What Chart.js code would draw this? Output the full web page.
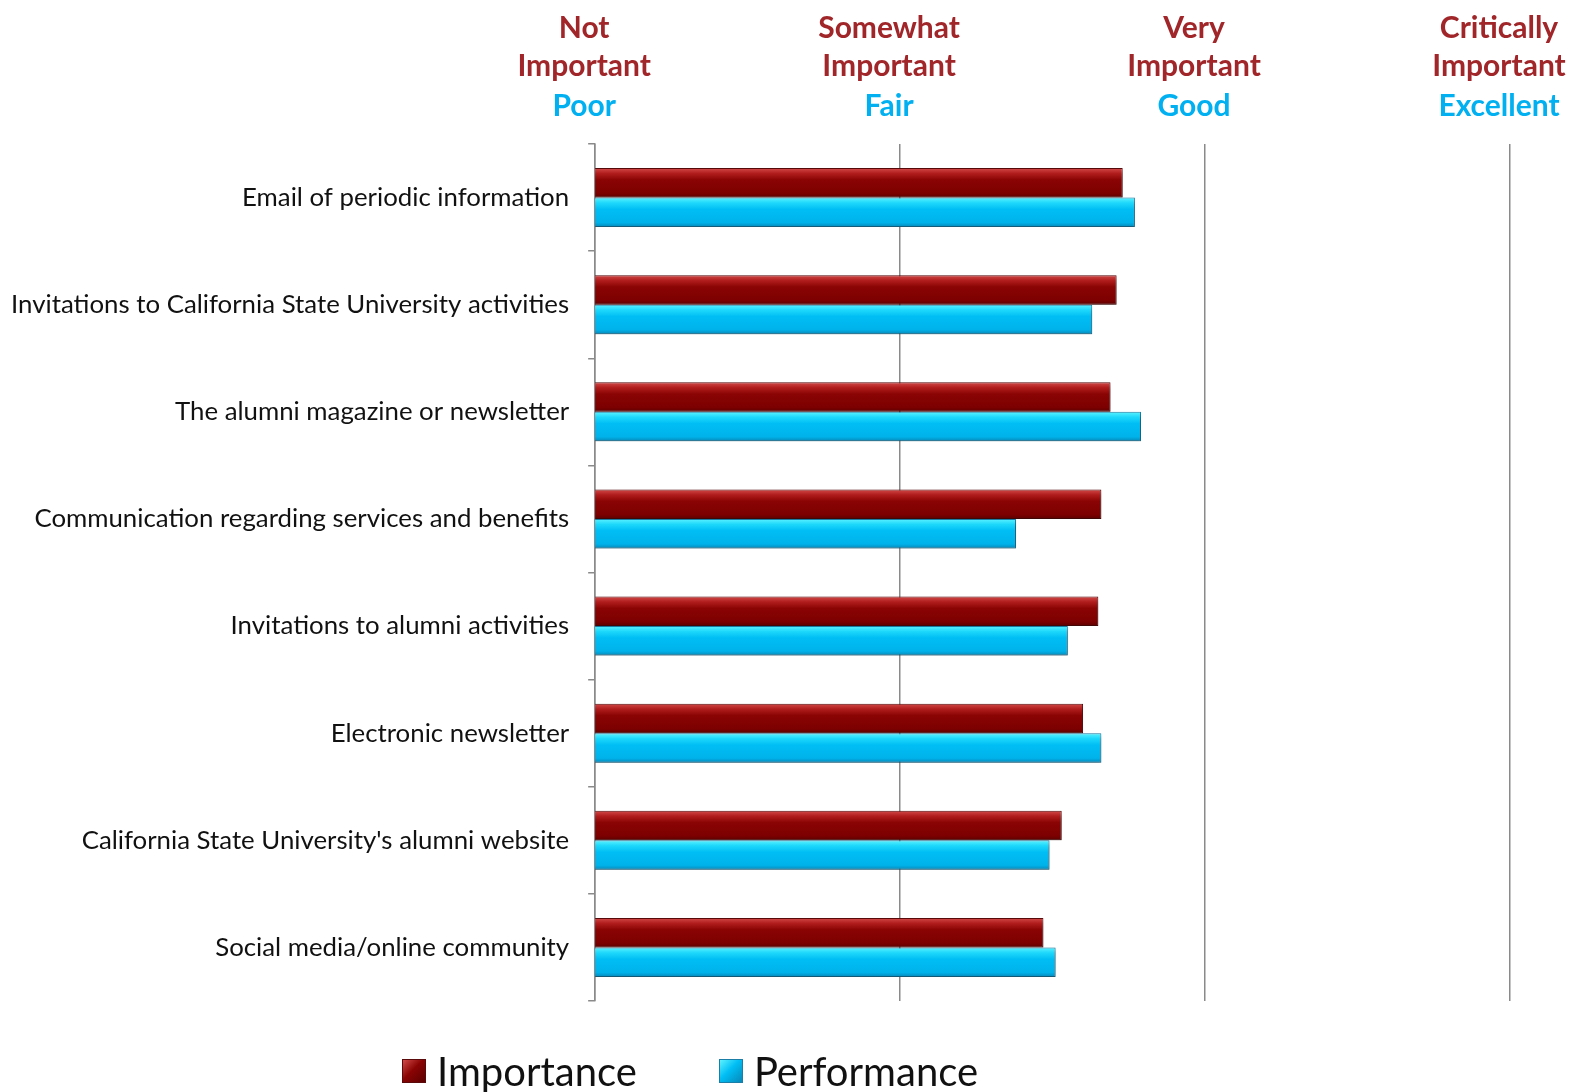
<!DOCTYPE html>
<html>
<head>
<meta charset="utf-8">
<script src="https://cdn.jsdelivr.net/npm/chart.js@4.4.1/dist/chart.umd.min.js"></script>
<style>
  html, body { margin: 0; padding: 0; background: #fff; }
  #wrap { position: relative; width: 1570px; height: 1092px; }
  #legend { position: absolute; left: 402px; top: 1047px; display: flex; align-items: center;
            font-family: Lato, "Open Sans", sans-serif; font-size: 40px; color: #111; line-height: 48px; }
  .item { display: flex; align-items: center; margin-right: 82px; }
  .box { width: 24px; height: 24px; margin-right: 11px; box-sizing: border-box; }
</style>
</head>
<body>
<div id="wrap">
  <canvas id="canvas" width="1570" height="1092"></canvas>
  <div id="legend"></div>
</div>
<script>
const categories = [
  'Email of periodic information',
  'Invitations to California State University activities',
  'The alumni magazine or newsletter',
  'Communication regarding services and benefits',
  'Invitations to alumni activities',
  'Electronic newsletter',
  "California State University's alumni website",
  'Social media/online community'
]
const importance = [2.73, 2.71, 2.69, 2.66, 2.65, 2.60, 2.53, 2.47]
const performance = [2.77, 2.63, 2.79, 2.38, 2.55, 2.66, 2.49, 2.51]
const importanceLabels = [['Not', 'Important'], ['Somewhat', 'Important'], ['Very', 'Important'], ['Critically', 'Important']]
const performanceLabels = ['Poor', 'Fair', 'Good', 'Excellent']

const RED = '#a0262a'
const BLUE = '#00b0f0'

// gradient for the "bevelled" bar look
function barFill(ctx, stops) {
  const chart = ctx.chart
  const y = chart.scales.y
  if (!y || ctx.dataIndex === undefined || !chart.chartArea) return stops[2][1]
  const cat = (y.bottom - y.top) / categories.length
  const h = cat * 0.55 / 2
  const c = y.getPixelForValue(ctx.dataIndex)
  const top = ctx.datasetIndex === 0 ? c - h : c
  const g = chart.ctx.createLinearGradient(0, top, 0, top + h)
  stops.forEach(s => g.addColorStop(s[0], s[1]))
  return g
}
const redStops = [[0, '#d24a4a'], [0.18, '#b11d1d'], [0.4, '#8a0404'], [0.85, '#7d0000'], [1, '#5c0000']]
const blueStops = [[0, '#5cf2ff'], [0.18, '#1ed8fb'], [0.4, '#00bef4'], [0.85, '#00b2ea'], [1, '#0788b8']]

const shadow = {
  id: 'shadow',
  beforeDatasetsDraw(chart) {
    const c = chart.ctx
    c.save()
    c.shadowColor = 'rgba(0,0,0,0.35)'
    c.shadowBlur = 5
    c.shadowOffsetX = 2
    c.shadowOffsetY = 3
  },
  afterDatasetsDraw(chart) { chart.ctx.restore() }
}

// header axes: fixed heights, and let the last label hang over the edge like the original
function topAxisFit(height) {
  return (scale) => {
    scale.height = height
    scale.paddingLeft = 0
    scale.paddingRight = 60
  }
}

const canvas = document.getElementById('canvas')
const chart = new Chart(canvas, {
  type: 'bar',
  data: {
    labels: categories,
    datasets: [{
      label: 'Importance',
      data: importance,
      backgroundColor: (ctx) => barFill(ctx, redStops),
      borderColor: '#5a0a0a',
      borderWidth: 1,
      categoryPercentage: 0.55,
      barPercentage: 1
    }, {
      label: 'Performance',
      data: performance,
      backgroundColor: (ctx) => barFill(ctx, blueStops),
      borderColor: '#1b7ea6',
      borderWidth: 1,
      categoryPercentage: 0.55,
      barPercentage: 1
    }]
  },
  plugins: [shadow],
  options: {
    indexAxis: 'y',
    responsive: false,
    animation: false,
    layout: { padding: { left: -8, right: 0, top: 8, bottom: 91 } },
    plugins: { legend: { display: false }, tooltip: { enabled: false } },
    scales: {
      x: {
        position: 'top',
        min: 1, max: 4,
        weight: 0,
        afterFit: topAxisFit(59),
        ticks: {
          stepSize: 1,
          autoSkip: false,
          maxRotation: 0,
          padding: 20,
          labelOffset: -11,
          color: BLUE,
          font: { family: 'Lato', size: 30, weight: 'bold', lineHeight: 1.2 },
          callback: (v) => performanceLabels[v - 1]
        },
        grid: { color: '#8a8a8a', lineWidth: 1.5, drawTicks: false },
        border: { display: false }
      },
      x2: {
        position: 'top',
        axis: 'x',
        min: 1, max: 4,
        weight: 1,
        afterFit: topAxisFit(77),
        ticks: {
          stepSize: 1,
          autoSkip: false,
          maxRotation: 0,
          padding: 0,
          labelOffset: -11,
          color: RED,
          font: { family: 'Lato', size: 30, weight: 'bold', lineHeight: 1.27 },
          callback: (v) => importanceLabels[v - 1]
        },
        grid: { display: false, drawTicks: false },
        border: { display: false }
      },
      y: {
        ticks: {
          padding: 19,
          color: '#111',
          font: { family: 'Lato', size: 25.8 }
        },
        grid: { offset: true, drawOnChartArea: false, tickLength: 7, color: '#8a8a8a', lineWidth: 1.5 },
        border: { color: '#8a8a8a', width: 1.5 }
      }
    }
  }
})

// legend built from the chart's datasets
const legend = document.getElementById('legend')
const swatches = [
  'linear-gradient(135deg, #d24a4a 0%, #8a0404 45%, #5c0000 100%)',
  'linear-gradient(135deg, #5cf2ff 0%, #00bef4 45%, #0788b8 100%)'
]
chart.data.datasets.forEach((ds, i) => {
  const item = document.createElement('div')
  item.className = 'item'
  const box = document.createElement('div')
  box.className = 'box'
  box.style.background = swatches[i]
  box.style.border = '1px solid ' + ds.borderColor
  const txt = document.createElement('span')
  txt.textContent = ds.label
  item.appendChild(box)
  item.appendChild(txt)
  legend.appendChild(item)
})
</script>
</body>
</html>
